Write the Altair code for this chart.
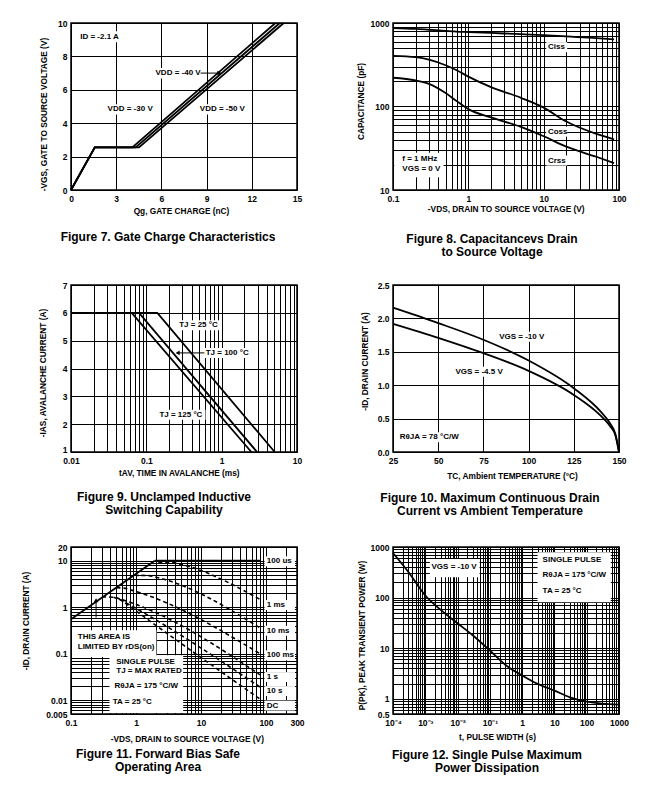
import altair as alt
import pandas as pd

FONT = "Liberation Sans"
W, H = 226, 167

# ---------------- Figure 7 : gate charge ----------------
f7_qg_30 = [0, 1.58, 4.07, 13.57]
f7_qg_40 = [0, 1.58, 4.29, 13.86]
f7_qg_50 = [0, 1.58, 4.51, 14.12]
f7_vgs = [0, 2.55, 2.55, 10]
f7_x_ticks = [0, 3, 6, 9, 12, 15]
f7_y_ticks = [0, 2, 4, 6, 8, 10]
f7_labels = ["ID = -2.1 A", "VDD = -40 V", "VDD = -30 V", "VDD = -50 V"]
f7_label_x = [0.61, 5.61, 2.43, 8.55]
f7_label_y = [9.18, 6.99, 4.83, 4.83]
f7_box_x = [0.5, 5.5, 2.33, 8.45]
f7_box_x2 = [3.3, 8.6, 5.35, 11.6]
f7_box_y = [8.85, 6.68, 4.52, 4.52]
f7_box_y2 = [9.5, 7.3, 5.14, 5.14]
f7_arrow_x = [8.6, 9.85]
f7_arrow_y = [7.0, 7.0]

# ---------------- Figure 8 : capacitance ----------------
f8_vds = [0.1, 0.2, 0.3, 0.5, 0.7, 1, 2, 5, 10, 20, 50, 86]
f8_ciss = [871, 850, 830, 805, 790, 780, 760, 735, 715, 690, 660, 636]
f8_coss = [405, 390, 365, 312, 272, 228, 171, 127, 97, 66, 47, 40.5]
f8_crss = [221, 205, 187, 145, 116, 93, 74, 57, 44, 33, 25, 21]
f8_x_labels = [0.1, 1, 10, 100]
f8_y_labels = [10, 100, 1000]
f8_labels = ["Ciss", "Coss", "Crss", "f = 1 MHz", "VGS = 0 V"]
f8_label_x = [11.4, 11.4, 11.4, 0.133, 0.133]
f8_label_y = [514, 50, 22.5, 23.2, 17.6]
f8_box_x = [10.8, 10.8, 10.8, 0.104]
f8_box_x2 = [20.5, 20.5, 20.5, 0.47]
f8_box_y = [447, 43.5, 19.6, 14.2]
f8_box_y2 = [590, 57.5, 25.9, 28]

# ---------------- Figure 9 : UIS ----------------
f9_t_25 = [0.01, 0.14, 5.06]
f9_t_100 = [0.01, 0.080, 2.95]
f9_t_125 = [0.01, 0.064, 2.48]
f9_ias = [6, 6, 1]
f9_x_labels = [0.01, 0.1, 1, 10]
f9_y_ticks = [1, 2, 3, 4, 5, 6, 7]
f9_labels = ["TJ = 25 °C", "TJ = 100 °C", "TJ = 125 °C"]
f9_label_x = [0.273, 0.614, 0.149]
f9_label_y = [5.55, 4.56, 2.34]
f9_box_x = [0.26, 0.59, 0.143]
f9_box_x2 = [0.96, 2.5, 0.61]
f9_box_y = [5.37, 4.38, 2.16]
f9_box_y2 = [5.73, 4.74, 2.52]
f9_arrow_x = [0.59, 0.26]
f9_arrow_y = [4.56, 4.56]

# ---------------- Figure 10 : drain current vs temperature ----------------
f10_tc = [25, 50, 75, 100, 125, 140, 145, 148, 150]
f10_id_10 = [2.16, 1.93, 1.68, 1.37, 0.955, 0.60, 0.43, 0.27, 0]
f10_id_45 = [1.92, 1.71, 1.48, 1.215, 0.855, 0.54, 0.39, 0.25, 0]
f10_x_ticks = [25, 50, 75, 100, 125, 150]
f10_y_ticks = [0, 0.5, 1.0, 1.5, 2.0, 2.5]
f10_labels = ["VGS = -10 V", "VGS = -4.5 V", "RθJA = 78 °C/W"]
f10_label_x = [83.7, 59.5, 28.7]
f10_label_y = [1.727, 1.2, 0.221]
f10_box_x = [82.6, 58.4, 27.6]
f10_box_x2 = [109.6, 84.8, 61.9]
f10_box_y = [1.65, 1.125, 0.146]
f10_box_y2 = [1.80, 1.275, 0.296]

# ---------------- Figure 11 : SOA ----------------
f11_rds_v = [0.1, 1.94]
f11_rds_i = [0.55, 10.1]
f11_100us_v = [1.94, 81]
f11_100us_i = [10.1, 10.1]
f11_1ms_v = [2.2, 3.3, 4.6, 81]
f11_1ms_i = [9.4, 9.4, 8.6, 1.48]
f11_10ms_v = [0.95, 1.5, 2.1, 81]
f11_10ms_i = [4.9, 4.85, 4.4, 0.36]
f11_100ms_v = [0.5, 0.65, 0.85, 81]
f11_100ms_i = [2.65, 2.6, 2.35, 0.10]
f11_1s_v = [0.3, 0.45, 0.62, 81]
f11_1s_i = [1.68, 1.65, 1.45, 0.035]
f11_10s_v = [0.45, 0.55, 0.7, 81]
f11_10s_i = [1.65, 1.5, 1.25, 0.019]
f11_dc_v = [0.55, 0.65, 0.8, 81]
f11_dc_i = [1.5, 1.3, 1.05, 0.0105]
f11_x_labels = [0.1, 1, 10, 100, 300]
f11_y_labels = [0.005, 0.01, 0.1, 1, 10, 20]
f11_curve_labels = ["100 us", "1 ms", "10 ms", "100 ms", "1 s", "10 s", "DC"]
f11_curve_label_y = [9.8, 1.12, 0.312, 0.092, 0.0313, 0.0156, 0.0076]
f11_curve_label_x = 103
f11_curve_box_x = [95, 280]
f11_notes = ["THIS AREA IS", "LIMITED BY rDS(on)", "SINGLE PULSE", "TJ = MAX RATED",
             "RθJA = 175 °C/W", "TA = 25 °C"]
f11_note_x = [0.127, 0.127, 0.497, 0.497, 0.467, 0.44]
f11_note_y = [0.231, 0.14, 0.066, 0.0423, 0.0196, 0.009]
f11_box_x = [0.1036, 0.391]
f11_box_x2 = [2.06, 5.32]
f11_box_y = [0.085, 0.00525]
f11_box_y2 = [0.321, 0.092]
f11_arrow_x = [0.243, 0.243]
f11_arrow_y = [0.6, 1.42]

# ---------------- Figure 12 : single pulse power ----------------
f12_t = [1e-4, 3e-4, 1e-3, 3e-3, 1e-2, 3e-2, 0.1, 0.3, 1, 3, 10, 30, 100, 300, 1000]
f12_p = [760, 320, 110, 57, 31, 17.8, 9.0, 4.7, 2.88, 1.97, 1.45, 1.07, 0.88, 0.8, 0.765]
f12_x_labels = [0.0001, 0.001, 0.01, 0.1, 1, 10, 100, 1000]
f12_x_texts = ["10⁻⁴", "10⁻³", "10⁻²", "10⁻¹", "1", "10", "100", "1000"]
f12_y_labels = [0.5, 1, 10, 100, 1000]
f12_notes = ["VGS = -10 V", "SINGLE PULSE", "RθJA = 175 °C/W", "TA = 25 °C"]
f12_note_x = [0.00156, 4.3, 4.3, 4.3]
f12_note_y = [397, 553, 284, 137]
f12_box_x = [0.00138, 3.0]
f12_box_x2 = [0.048, 555]
f12_box_y = [252, 80.7]
f12_box_y2 = [580, 785]


# ---------------- helpers ----------------
def log_grid(lo, hi, start_mult=1, extra=()):
    vals = []
    for e in range(lo, hi):
        for m in range(1, 10):
            if e == lo and m < start_mult:
                continue
            vals.append(round(m * 10.0 ** e, 12))
    vals.append(round(10.0 ** hi, 12))
    vals.extend(extra)
    return vals


def label_expr(vals, texts=None):
    if texts is None:
        texts = [("%g" % v) for v in vals]
    parts = " : ".join("datum.value == %r ? '%s'" % (v, t) for v, t in zip(vals, texts))
    return parts + " : ''"


def xaxis(values, title, tx, ty, expr=None, fmt=None):
    kw = dict(values=values, title=title, titleX=tx, titleY=ty,
              titleBaseline="middle", titleAlign="center")
    if expr is not None:
        kw["labelExpr"] = expr
    if fmt is not None:
        kw["format"] = fmt
    return alt.Axis(**kw)


def yaxis(values, title, tx, ty, expr=None, fmt=None, raise_value=None):
    kw = dict(values=values, title=title, titleX=tx, titleY=ty,
              titleBaseline="middle", titleAlign="center", titleAngle=270)
    if expr is not None:
        kw["labelExpr"] = expr
    if fmt is not None:
        kw["format"] = fmt
    if raise_value is not None:
        kw["labelBaseline"] = {"condition": {"test": "datum.value == %r" % raise_value,
                                             "value": "alphabetic"},
                               "value": "middle"}
    return alt.Axis(**kw)


def series_df(pairs):
    rows = []
    for name, xs, ys in pairs:
        for i, (a, b) in enumerate(zip(xs, ys)):
            rows.append({"s": name, "o": i, "x": a, "y": b})
    return pd.DataFrame(rows)


def panel(xs, ax, ys, ay, lines, boxes=None, texts=None, arrows=None,
          heads=None, caption=None, cap_dx=0, cap_off=10):
    X = lambda: alt.X("x:Q", scale=xs, axis=ax)
    Y = lambda: alt.Y("y:Q", scale=ys, axis=ay)
    layers = []
    if boxes is not None:
        layers.append(alt.Chart(boxes).mark_rect(fill="white", strokeWidth=0).encode(
            x=X(), x2="x2:Q", y=Y(), y2="y2:Q"))
    for df, ip, dash, sw in lines:
        kw = dict(color="black", strokeWidth=sw, interpolate=ip)
        if dash:
            kw["strokeDash"] = dash
        layers.append(alt.Chart(df).mark_line(**kw).encode(
            x=X(), y=Y(), detail="s:N", order="o:Q"))
    if arrows is not None:
        layers.append(alt.Chart(arrows).mark_line(color="black", strokeWidth=1).encode(
            x=X(), y=Y(), detail="s:N", order="o:Q"))
    if heads is not None:
        for df, shape in heads:
            layers.append(alt.Chart(df).mark_point(shape=shape, filled=True, size=22,
                                                   color="black", opacity=1).encode(x=X(), y=Y()))
    if texts is not None:
        layers.append(alt.Chart(texts).mark_text(align="left", baseline="middle", font=FONT,
                                                 fontSize=8, fontWeight="bold",
                                                 color="black").encode(x=X(), y=Y(), text="t:N"))
    ch = alt.layer(*layers).properties(
        width=W, height=H,
        title=alt.TitleParams(text=caption, orient="bottom", anchor="middle", frame="group",
                              offset=cap_off, dx=cap_dx, font=FONT, fontSize=12,
                              fontWeight="bold", color="black", lineHeight=13,
                              baseline="top"))
    return ch


def box_df(x, x2, y, y2):
    return pd.DataFrame({"x": x, "x2": x2, "y": y, "y2": y2})


def text_df(t, x, y):
    return pd.DataFrame({"t": t, "x": x, "y": y})


# ---------------- Figure 7 ----------------
f7 = panel(
    alt.Scale(domain=[0, 15], nice=False, zero=False),
    xaxis(f7_x_ticks, "Qg, GATE CHARGE (nC)", 110, 21.7),
    alt.Scale(domain=[0, 10], nice=False, zero=False),
    yaxis(f7_y_ticks, "-VGS, GATE TO SOURCE VOLTAGE (V)", -27, 91),
    lines=[(series_df([("-30", f7_qg_30, f7_vgs), ("-40", f7_qg_40, f7_vgs),
                       ("-50", f7_qg_50, f7_vgs)]), "linear", None, 1.8)],
    boxes=box_df(f7_box_x, f7_box_x2, f7_box_y, f7_box_y2),
    texts=text_df(f7_labels, f7_label_x, f7_label_y),
    arrows=series_df([("a", f7_arrow_x, f7_arrow_y)]),
    heads=[(pd.DataFrame({"x": [f7_arrow_x[1]], "y": [f7_arrow_y[1]]}), "triangle-right")],
    caption=["Figure 7.  Gate Charge Characteristics"], cap_dx=-16, cap_off=16.9)

# ---------------- Figure 8 ----------------
f8 = panel(
    alt.Scale(type="log", domain=[0.1, 100], nice=False),
    xaxis(log_grid(-1, 2), "-VDS, DRAIN TO SOURCE VOLTAGE (V)", 112.7, 19.7,
          expr=label_expr(f8_x_labels)),
    alt.Scale(type="log", domain=[10, 1000], nice=False),
    yaxis(log_grid(1, 3), "CAPACITANCE (pF)", -32, 78, expr=label_expr(f8_y_labels)),
    lines=[(series_df([("ciss", f8_vds, f8_ciss), ("coss", f8_vds, f8_coss),
                       ("crss", f8_vds, f8_crss)]), "monotone", None, 1.8)],
    boxes=box_df(f8_box_x, f8_box_x2, f8_box_y, f8_box_y2),
    texts=text_df(f8_labels, f8_label_x, f8_label_y),
    caption=["Figure 8. Capacitancevs Drain", "to Source Voltage"], cap_dx=-14, cap_off=20.5)

# ---------------- Figure 9 ----------------
f9 = panel(
    alt.Scale(type="log", domain=[0.01, 10], nice=False),
    xaxis(log_grid(-2, 1), "tAV, TIME IN AVALANCHE (ms)", 107.8, 21.7,
          expr=label_expr(f9_x_labels)),
    alt.Scale(domain=[1, 7], nice=False, zero=False),
    yaxis(f9_y_ticks, "-IAS, AVALANCHE CURRENT (A)", -28, 87.5, raise_value=1),
    lines=[(series_df([("25", f9_t_25, f9_ias), ("100", f9_t_100, f9_ias),
                       ("125", f9_t_125, f9_ias)]), "linear", None, 1.8)],
    boxes=box_df(f9_box_x, f9_box_x2, f9_box_y, f9_box_y2),
    texts=text_df(f9_labels, f9_label_x, f9_label_y),
    arrows=series_df([("a", f9_arrow_x, f9_arrow_y)]),
    heads=[(pd.DataFrame({"x": [f9_arrow_x[1]], "y": [f9_arrow_y[1]]}), "triangle-left")],
    caption=["Figure 9. Unclamped Inductive", "Switching Capability"], cap_dx=-20, cap_off=14.9)

# ---------------- Figure 10 ----------------
f10 = panel(
    alt.Scale(domain=[25, 150], nice=False, zero=False),
    xaxis(f10_x_ticks, "TC, Ambient TEMPERATURE (°C)", 119, 24.3),
    alt.Scale(domain=[0, 2.5], nice=False, zero=False),
    yaxis(f10_y_ticks, "-ID, DRAIN CURRENT (A)", -28, 76, fmt=".1f"),
    lines=[(series_df([("10", f10_tc, f10_id_10), ("45", f10_tc, f10_id_45)]),
            "monotone", None, 1.8)],
    boxes=box_df(f10_box_x, f10_box_x2, f10_box_y, f10_box_y2),
    texts=text_df(f10_labels, f10_label_x, f10_label_y),
    caption=["Figure 10. Maximum Continuous Drain", "Current vs Ambient Temperature"],
    cap_dx=-16, cap_off=13.3)

# ---------------- Figure 11 ----------------
f11_boxes = box_df(
    f11_box_x + [f11_curve_box_x[0]] * len(f11_curve_label_y),
    f11_box_x2 + [f11_curve_box_x[1]] * len(f11_curve_label_y),
    f11_box_y + [v / 1.28 for v in f11_curve_label_y],
    f11_box_y2 + [v * 1.28 for v in f11_curve_label_y])
f11_texts = text_df(f11_notes + f11_curve_labels,
                    f11_note_x + [f11_curve_label_x] * len(f11_curve_labels),
                    f11_note_y + f11_curve_label_y)
f11 = panel(
    alt.Scale(type="log", domain=[0.1, 300], nice=False),
    xaxis(log_grid(-1, 2, extra=[200, 300]), "-VDS, DRAIN to SOURCE VOLTAGE (V)", 115.8, 25,
          expr=label_expr(f11_x_labels)),
    alt.Scale(type="log", domain=[0.005, 20], nice=False),
    yaxis([0.005, 0.006, 0.007, 0.008, 0.009] + log_grid(-2, 1, extra=[20]),
          "-ID, DRAIN CURRENT (A)", -45, 73.5, expr=label_expr(f11_y_labels)),
    lines=[(series_df([("rds", f11_rds_v, f11_rds_i), ("100us", f11_100us_v, f11_100us_i)]),
            "linear", None, 1.8),
           (series_df([("1ms", f11_1ms_v, f11_1ms_i), ("10ms", f11_10ms_v, f11_10ms_i),
                       ("100ms", f11_100ms_v, f11_100ms_i), ("1s", f11_1s_v, f11_1s_i),
                       ("10s", f11_10s_v, f11_10s_i), ("dc", f11_dc_v, f11_dc_i)]),
            "monotone", [4, 3], 1.6)],
    boxes=f11_boxes,
    texts=f11_texts,
    arrows=series_df([("a", f11_arrow_x, f11_arrow_y)]),
    heads=[(pd.DataFrame({"x": [f11_arrow_x[1]], "y": [f11_arrow_y[1]]}), "triangle-up")],
    caption=["Figure 11.  Forward Bias Safe", "Operating Area"], cap_dx=-26, cap_off=6.3)

# ---------------- Figure 12 ----------------
f12 = panel(
    alt.Scale(type="log", domain=[0.0001, 1000], nice=False),
    xaxis(log_grid(-4, 3), "t, PULSE WIDTH (s)", 104, 23.3,
          expr=label_expr(f12_x_labels, f12_x_texts)),
    alt.Scale(type="log", domain=[0.5, 1000], nice=False),
    yaxis([0.5, 0.6, 0.7, 0.8, 0.9] + log_grid(0, 3), "P(PK), PEAK TRANSIENT POWER (W)",
          -31, 88, expr=label_expr(f12_y_labels)),
    lines=[(series_df([("p", f12_t, f12_p)]), "monotone", None, 1.8)],
    boxes=box_df(f12_box_x, f12_box_x2, f12_box_y, f12_box_y2),
    texts=text_df(f12_notes, f12_note_x, f12_note_y),
    caption=["Figure 12.  Single Pulse Maximum", "Power  Dissipation"], cap_dx=-19, cap_off=9.8)

chart = alt.concat(
    f7, f8, f9, f10, f11, f12, columns=2,
    spacing={"row": 95, "column": 96}, bounds="flush"
).properties(
    padding={"left": 12, "top": 10, "right": 5, "bottom": 5},
    background="white",
).configure_view(
    stroke="black", strokeWidth=1.5
).configure_axis(
    grid=True, gridColor="black", gridOpacity=1, gridWidth=1,
    domain=False, ticks=False, tickSize=0,
    labelFont=FONT, labelFontSize=8.5, labelFontWeight="bold", labelColor="black",
    labelPadding=4, labelFlush=False, labelOverlap=False,
    titleFont=FONT, titleFontSize=8.3, titleFontWeight="bold", titleColor="black",
)

chart.save("out.html", embed_options={"renderer": "svg", "actions": False})
